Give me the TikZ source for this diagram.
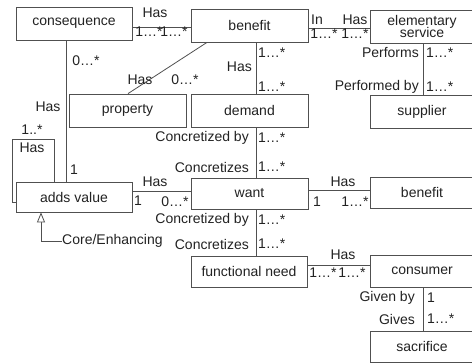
\documentclass[tikz,border=0pt]{standalone}
\usepackage{fontspec}
\setmainfont{Liberation Sans}
\usetikzlibrary{arrows.meta}
\definecolor{ln}{HTML}{505050}
\definecolor{tx}{HTML}{222222}
\tikzset{
  cls/.style={draw=ln, line width=0.8pt, fill=white, inner sep=0pt, text=tx, font=\fontsize{14}{15.5}\selectfont, align=center},
  lbl/.style={inner sep=0pt, text=tx, font=\fontsize{14}{15.5}\selectfont},
  lblr/.style={lbl, anchor=east},
  lbll/.style={lbl, anchor=west},
  conn/.style={draw=ln, line width=0.8pt}
}
\begin{document}
\begin{tikzpicture}[x=1pt,y=-1pt]
\path[use as bounding box] (0,0) rectangle (472,364);
\clip (0,0) rectangle (472,364);
% classes
\node[cls, minimum width=116, minimum height=33] (cons) at (74,23.5) {consequence};
\node[cls, minimum width=117, minimum height=33] (ben1) at (249.5,25.5) {benefit};
\node[cls, minimum width=104, minimum height=33] (elem) at (422,26.5) {elementary\\[-3pt]service};
\node[cls, minimum width=117, minimum height=33] (prop) at (127.5,110.5) {property};
\node[cls, minimum width=117, minimum height=33] (dem) at (249.5,110.5) {demand};
\node[cls, minimum width=104, minimum height=33] (supp) at (422,111.5) {supplier};
\node[cls, minimum width=116, minimum height=30] (adds) at (74,197) {adds value};
\node[cls, minimum width=117, minimum height=31] (want) at (249.5,193.5) {want};
\node[cls, minimum width=104, minimum height=31] (ben2) at (422,192.5) {benefit};
\node[cls, minimum width=116, minimum height=31] (fneed) at (249,271.5) {functional need};
\node[cls, minimum width=104, minimum height=32] (cnsm) at (422,271) {consumer};
\node[cls, minimum width=104, minimum height=31] (sacr) at (422,346.5) {sacrifice};
% connectors
\draw[conn] (cons.east |- 0,27) -- (ben1.west |- 0,27);
\draw[conn] (ben1.east |- 0,28) -- (elem.west |- 0,28);
\draw[conn] (ben1.south -| 256,0) -- (dem.north -| 256,0);
\draw[conn] (ben1.south -| 207,0) -- (prop.north -| 128,0);
\draw[conn] (cons.south -| 66,0) -- (adds.north -| 66,0);
\coordinate (lpA) at (54,139);
\coordinate (lpB) at (12,139);
\coordinate (lpC) at (12,202);
\draw[conn] (adds.north -| lpA) -- (lpA) -- (lpB) -- (lpC) -- (adds.west |- lpC);
\draw[conn] (adds.east |- 0,191) -- (want.west |- 0,191);
\coordinate (gen) at (41,241);
\node[lbll] (core) at (62,241) {Core/Enhancing};
\draw[conn, -{Triangle[open, fill=white, width=8pt, length=10pt]}] (core.west |- gen) -- (gen) -- (adds.south -| gen);
\draw[conn] (dem.south -| 256,0) -- (want.north -| 256,0);
\draw[conn] (want.east |- 0,190) -- (ben2.west |- 0,190);
\draw[conn] (want.south -| 256,0) -- (fneed.north -| 256,0);
\draw[conn] (fneed.east |- 0,265) -- (cnsm.west |- 0,265);
\draw[conn] (elem.south -| 423,0) -- (supp.north -| 423,0);
\draw[conn] (cnsm.south -| 423,0) -- (sacr.north -| 423,0);
% labels
\node[lbl] (l1) at (155,13) {Has};
\node[lbl] (l2) at (149,32) {1…*};
\node[lbl] (l3) at (174,32) {1…*};
\node[lbl] (l4) at (317,19.5) {In};
\node[lbl] (l5) at (355,19.5) {Has};
\node[lbl] (l6) at (324,34) {1…*};
\node[lbl] (l7) at (355,34) {1…*};
\node[lbll] (l8) at (258,53) {1…*};
\node[lblr] (l9) at (252,67) {Has};
\node[lbll] (l10) at (258,87) {1…*};
\node[lbl] (l11) at (86,61) {0…*};
\node[lbl] (l12) at (140,80) {Has};
\node[lbl] (l13) at (185,80) {0…*};
\node[lbl] (l14) at (48,107) {Has};
\node[lbl] (l15) at (32,130) {1..*};
\node[lbl] (l16) at (32,148) {Has};
\node[lbl] (l17) at (74,170) {1};
\node[lbl] (l18) at (155,182) {Has};
\node[lbl] (l19) at (138,201) {1};
\node[lbl] (l20) at (175,202) {0…*};
\node[lblr] (l21) at (419,53) {Performs};
\node[lbll] (l22) at (426,53) {1…*};
\node[lblr] (l23) at (419,87) {Performed by};
\node[lbll] (l24) at (426,87) {1…*};
\node[lblr] (l25) at (249,138) {Concretized by};
\node[lbll] (l26) at (258,138) {1…*};
\node[lblr] (l27) at (249,167) {Concretizes};
\node[lbll] (l28) at (258,167) {1…*};
\node[lbl] (l29) at (343,182) {Has};
\node[lbl] (l30) at (317,202) {1};
\node[lbl] (l31) at (355,202) {1…*};
\node[lblr] (l32) at (249,220) {Concretized by};
\node[lbll] (l33) at (258,220) {1…*};
\node[lblr] (l34) at (249,244) {Concretizes};
\node[lbll] (l35) at (258,244) {1…*};
\node[lbl] (l36) at (343,255) {Has};
\node[lbl] (l37) at (323,273) {1…*};
\node[lbl] (l38) at (352,273) {1…*};
\node[lblr] (l39) at (415,298) {Given by};
\node[lbll] (l40) at (427,298) {1};
\node[lblr] (l41) at (415,319) {Gives};
\node[lbll] (l42) at (427,319) {1…*};
\end{tikzpicture}
\end{document}
